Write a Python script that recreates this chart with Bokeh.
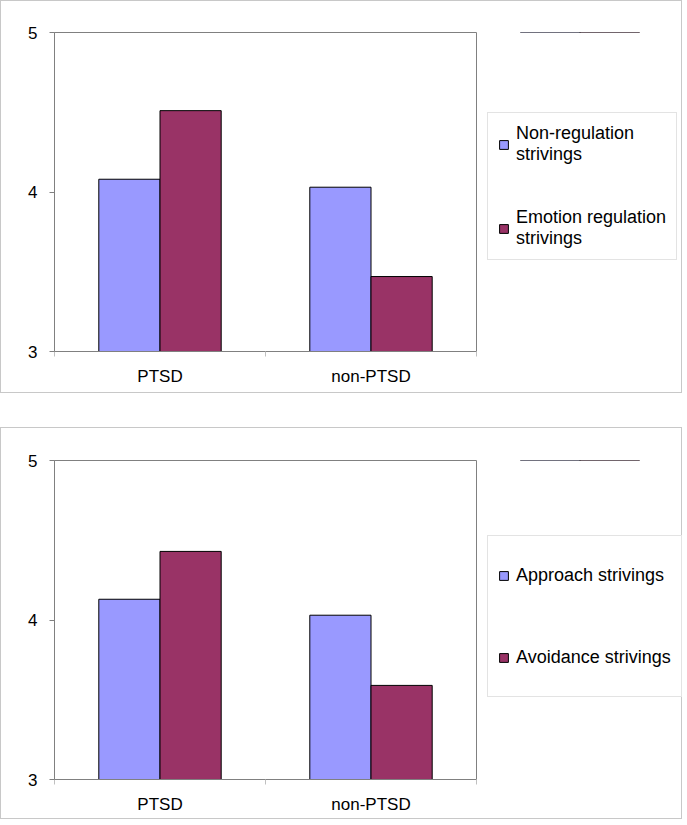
from bokeh.plotting import figure
from bokeh.models import (Range1d, Legend, LegendItem, LinearAxis,
                          FixedTicker, ColumnDataSource)
from bokeh.layouts import column, row
from bokeh.embed import file_html
from bokeh.resources import INLINE

# ---- data ----
groups = ["PTSD", "non-PTSD"]
y_ticks = [3, 4, 5]

top_series = ["Non-regulation\nstrivings", "Emotion regulation\nstrivings"]
top_nonregulation = [4.08, 4.03]
top_emotion_regulation = [4.51, 3.47]

bottom_series = ["Approach strivings", "Avoidance strivings"]
bottom_approach = [4.13, 4.03]
bottom_avoidance = [4.43, 3.59]

colors = ["#9999FF", "#993366"]
FONT = "Liberation Sans"
GRID = "#808080"
BAR_W = 0.29
PLOT_W = 477
LEG_W = 205


def make_panel(series, vals_a, vals_b, height, b_top, b_bottom,
               leg_y, leg_spacing, leg_lh):
    n = len(groups)
    p = figure(x_range=Range1d(0, n), y_range=Range1d(y_ticks[0], y_ticks[-1]),
               width=PLOT_W, height=height, output_backend="svg", toolbar_location=None,
               x_axis_location=None, y_axis_location=None,
               min_border_left=54, min_border_right=1,
               min_border_top=b_top, min_border_bottom=b_bottom,
               background_fill_color="white", border_fill_color=None,
               outline_line_color=GRID, outline_line_width=1)
    p.xgrid.visible = False
    p.ygrid.visible = False

    yax = LinearAxis(ticker=FixedTicker(ticks=y_ticks))
    yax.axis_line_color = GRID
    yax.major_tick_line_color = GRID
    yax.major_tick_in = 0
    yax.major_tick_out = 5
    yax.minor_tick_line_color = None
    yax.major_label_standoff = 12
    yax.major_label_text_font = FONT
    yax.major_label_text_font_size = "17px"
    yax.major_label_text_color = "black"
    p.add_layout(yax, "left")

    # category separator ticks
    sep = LinearAxis(ticker=FixedTicker(ticks=list(range(n + 1))))
    sep.axis_line_color = GRID
    sep.major_tick_line_color = "#c0c0c0"
    sep.major_tick_in = 0
    sep.major_tick_out = 5
    sep.minor_tick_line_color = None
    sep.major_label_text_font_size = "1px"
    sep.major_label_text_alpha = 0
    sep.major_label_standoff = 0
    p.add_layout(sep, "below")

    # category labels at the centre of each category
    centers = [i + 0.5 for i in range(n)]
    xax = LinearAxis(ticker=FixedTicker(ticks=centers))
    xax.major_label_overrides = {c: g for c, g in zip(centers, groups)}
    xax.axis_line_color = None
    xax.major_tick_line_color = None
    xax.minor_tick_line_color = None
    xax.major_label_standoff = 4
    xax.major_label_text_font = FONT
    xax.major_label_text_font_size = "17px"
    xax.major_label_text_color = "black"
    p.add_layout(xax, "below")

    src = ColumnDataSource(dict(xa=[c - BAR_W / 2 for c in centers],
                                xb=[c + BAR_W / 2 for c in centers],
                                a=vals_a, b=vals_b))
    p.vbar(x="xa", top="a", bottom=y_ticks[0], width=BAR_W, source=src,
           fill_color=colors[0], line_color="black", line_width=1)
    p.vbar(x="xb", top="b", bottom=y_ticks[0], width=BAR_W, source=src,
           fill_color=colors[1], line_color="black", line_width=1)

    # legend lives in its own blank figure to the right of the plot area;
    # its swatch renderers use the same data but fall outside that figure's view
    lg = figure(x_range=Range1d(0, 1), y_range=Range1d(0, 1),
                width=LEG_W, height=height, output_backend="svg", toolbar_location=None,
                x_axis_location=None, y_axis_location=None, min_border=0,
                background_fill_color=None, border_fill_color=None,
                outline_line_color=None)
    lg.xgrid.visible = False
    lg.ygrid.visible = False
    la = lg.vbar(x="xa", top="a", bottom=y_ticks[0], width=BAR_W, source=src,
                 fill_color=colors[0], line_color="black", line_width=1)
    lb = lg.vbar(x="xb", top="b", bottom=y_ticks[0], width=BAR_W, source=src,
                 fill_color=colors[1], line_color="black", line_width=1)
    legend = Legend(items=[LegendItem(label=series[0], renderers=[la]),
                           LegendItem(label=series[1], renderers=[lb])],
                    location=(10, leg_y))
    legend.label_text_font = FONT
    legend.label_text_font_size = "18px"
    legend.label_text_line_height = 1.2
    legend.label_text_color = "black"
    legend.glyph_width = 11
    legend.glyph_height = 11
    legend.label_standoff = 7
    legend.label_height = leg_lh
    legend.spacing = leg_spacing
    legend.padding = 10
    legend.margin = 0
    legend.border_line_color = "#c8c8c8"
    legend.border_line_width = 1
    legend.background_fill_color = "white"
    legend.background_fill_alpha = 1
    lg.add_layout(legend, "center")

    return row(p, lg, spacing=0,
               styles={"box-shadow": "inset 0 0 0 1px #c8c8c8", "background-color": "white"})


panel1 = make_panel(top_series, top_nonregulation, top_emotion_regulation,
                    393, 32, 42, 91, 42, 22)
panel2 = make_panel(bottom_series, bottom_approach, bottom_avoidance,
                    392, 33, 40, 82, 24, 58)

layout = column(panel1, panel2, spacing=34)
open("out.html", "w").write(file_html(layout, INLINE))
